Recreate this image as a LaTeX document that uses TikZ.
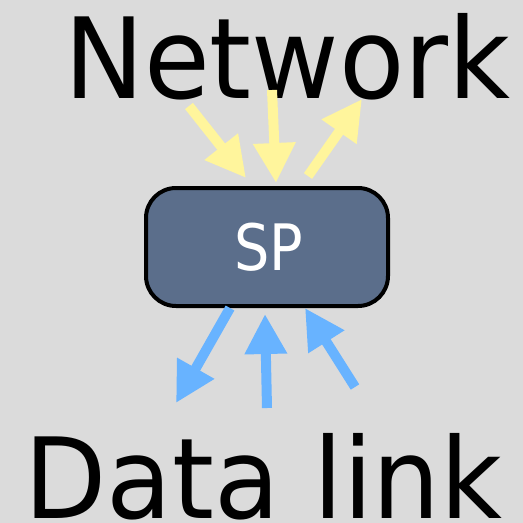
\documentclass[tikz,border=0pt]{standalone}
\usepackage{fontspec}
\setmainfont{DejaVu Sans}
\usetikzlibrary{arrows.meta}
\definecolor{bg}{HTML}{DBDBDB}
\definecolor{slate}{HTML}{5B6E8B}
\definecolor{upflow}{HTML}{FFF59C}
\definecolor{downflow}{HTML}{68B3FF}
\tikzset{
  layerlabel/.style={font=\fontsize{112}{112}\selectfont, inner sep=0pt, anchor=base west, text=black},
  procbox/.style={draw=black, line width=4pt, fill=slate, rounded corners=30pt,
    minimum width=242pt, minimum height=118pt, inner sep=0pt},
  boxlabel/.style={text=white, font=\fontsize{64}{64}\selectfont, inner sep=0pt, anchor=base},
  flow/.style={line width=10pt, -{Triangle[width=40pt,length=40pt]}},
  netflow/.style={flow, draw=upflow},
  linkflow/.style={flow, draw=downflow},
}
\begin{document}
\begin{tikzpicture}[x=1pt,y=-1pt]
  \fill[bg] (0,0) rectangle (523,523);
  \useasboundingbox (0,0) rectangle (523,523);

  % layer labels
  \node[layerlabel] (net) at (64,98) {\scalebox{0.955}[1]{Network}};
  \node[layerlabel] (dl) at (24,518) {\scalebox{0.955}[1]{Data link}};

  % the protocol box
  \node[procbox] (sp) at (267,247) {};
  \node[boxlabel] (spl) at (268.5,270) {\scalebox{0.87}[1]{SP}};

  % arrow end points
  \coordinate (n1a) at (189,106);  \coordinate (n1b) at (246,178);
  \coordinate (n2a) at (272,90);   \coordinate (n2b) at (276,183);
  \coordinate (n3a) at (308,176);  \coordinate (n3b) at (362,99);
  \coordinate (d1a) at (230,308);  \coordinate (d1b) at (176,403);
  \coordinate (d2a) at (267,408);  \coordinate (d2b) at (265,314);
  \coordinate (d3a) at (355,387);  \coordinate (d3b) at (305,308);

  % network side
  \draw[netflow] (n1a) -- (n1b);
  \draw[netflow] (n2a) -- (n2b);
  \draw[netflow] (n3a) -- (n3b);
  % data link side
  \draw[linkflow] (d1a) -- (d1b);
  \draw[linkflow] (d2a) -- (d2b);
  \draw[linkflow] (d3a) -- (d3b);
\end{tikzpicture}
\end{document}
